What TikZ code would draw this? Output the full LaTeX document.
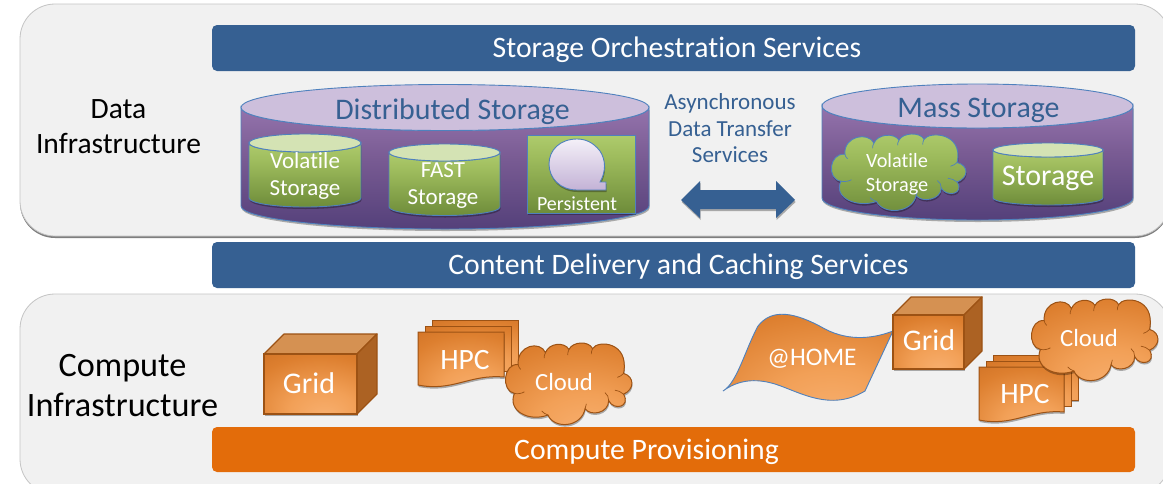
\documentclass[tikz,border=0pt]{standalone}
\usepackage{fontspec}
\setmainfont{Carlito}[Ligatures=NoCommon]
\usetikzlibrary{shadows}
\definecolor{barblue}{HTML}{366092}
\definecolor{barorange}{HTML}{E36C0A}
\definecolor{panelfill}{HTML}{F1F1F1}
\definecolor{panelline}{HTML}{C4C4C4}
\definecolor{cylline}{HTML}{4F81BD}
\definecolor{orangeline}{HTML}{9C5214}
\definecolor{HTMLtop}{HTML}{D59152}
\definecolor{HTMLside}{HTML}{AC6223}
\definecolor{cloudorangeline}{HTML}{9C5214}
\definecolor{cloudgreenline}{HTML}{4F81BD}
\definecolor{HTMLlav}{HTML}{CDBFDC}
\definecolor{HTMLlgreen}{HTML}{D4E3B4}
\definecolor{pa}{HTML}{54407A}
\definecolor{pb}{HTML}{7A5C94}
\definecolor{pc}{HTML}{9473AC}
\definecolor{ga}{HTML}{6E8C3A}
\definecolor{gb}{HTML}{9DBB5C}
\definecolor{gc}{HTML}{AECB6C}
\definecolor{ba}{HTML}{C3B2D6}
\definecolor{bb}{HTML}{F4F0F8}
\definecolor{oa}{HTML}{F8B070}
\definecolor{ob}{HTML}{F2A057}
\definecolor{oc}{HTML}{DD7F2F}
\definecolor{od}{HTML}{C96B20}
\definecolor{oe}{HTML}{BE641C}
\pgfdeclareverticalshading{purplebody}{100bp}{color(0bp)=(pa);color(25bp)=(pa);color(55bp)=(pb);color(75bp)=(pc);color(100bp)=(pc)}
\pgfdeclareverticalshading{greenbody}{100bp}{color(0bp)=(ga);color(25bp)=(ga);color(60bp)=(gb);color(75bp)=(gc);color(100bp)=(gc)}
\pgfdeclareverticalshading{bubble}{100bp}{color(0bp)=(ba);color(25bp)=(ba);color(75bp)=(bb);color(100bp)=(bb)}
\pgfdeclareradialshading{orangeglow}{\pgfpoint{8bp}{-28bp}}{color(0bp)=(oa);color(18bp)=(ob);color(40bp)=(oc);color(60bp)=(od);color(100bp)=(oe)}
\tikzset{
  x=1pt,y=-1pt,
  panel/.style={draw=panelline,line width=.8pt,fill=panelfill,rounded corners=35pt,inner sep=0pt,minimum width=1150pt},
  bar/.style={rounded corners=5pt,inner sep=0pt,minimum width=923pt,text=white,text height=22pt,text depth=3pt,font=\fontsize{29.7}{32}\selectfont},
  sidelabel/.style={align=center,text=black,inner sep=0pt},
  titlelabel/.style={text=barblue,inner sep=0pt,font=\fontsize{29.9}{32}\selectfont},
  whitelabel/.style={text=white,align=center,inner sep=0pt},
  cylbody/.style={draw=cylline,line width=.9pt,shading=purplebody},
  cyltop/.style={draw=cylline,line width=.9pt,fill=#1},
  greenshape/.style={draw=cylline,line width=.9pt,shading=greenbody},
  softshadow/.style={drop shadow={shadow xshift=.6pt,shadow yshift=-2pt,opacity=.3,fill=black}},
  orangeshape/.style={draw=orangeline,line width=1pt,shading=orangeglow},
  cloudorange/.style={},
  cloudgreen/.style={greenshape},
}
% name, cx, top-centre y, rx, ry, side-bottom y, body style, top colour
\newcommand{\cylinderat}[8]{%
  \path[#7,softshadow] (#2-#4,#3) -- (#2-#4,#6) arc[start angle=180,end angle=0,x radius=#4,y radius=#5] -- (#2+#4,#3) arc[start angle=0,end angle=180,x radius=#4,y radius=#5] -- cycle;
  \path[cyltop=#8] (#2,#3) ellipse[x radius=#4,y radius=#5];
  \coordinate (#1) at (#2,#3);
}
\newcommand{\cloudat}[5]{% style,x,y,w,h
  \begin{scope}[shift={(#2,#3)},xscale=#4,yscale=#5]
  \path[orangeshape,softshadow,#1] (.09,.27)
    .. controls (.08,.02) and (.27,-.03) .. (.31,.12)
    .. controls (.34,.0) and (.46,-.02) .. (.50,.08)
    .. controls (.53,-.02) and (.66,-.03) .. (.69,.07)
    .. controls (.73,-.04) and (.99,-.02) .. (.94,.38)
    .. controls (1.03,.42) and (1.03,.58) .. (.94,.64)
    .. controls (1.0,.80) and (.86,.85) .. (.82,.72)
    .. controls (.82,.88) and (.67,.92) .. (.63,.82)
    .. controls (.60,1.06) and (.38,1.08) .. (.33,.90)
    .. controls (.18,.99) and (.0,.85) .. (.06,.63)
    .. controls (-.05,.60) and (-.03,.25) .. (.09,.27) -- cycle;
  \path[draw=#1line,line width=.7pt]
    (.31,.12) .. controls (.30,.15) and (.30,.17) .. (.30,.19)
    (.50,.08) .. controls (.49,.11) and (.49,.13) .. (.49,.15)
    (.69,.07) .. controls (.68,.10) and (.68,.12) .. (.68,.14)
    (.94,.38) .. controls (.93,.40) and (.91,.42) .. (.89,.43)
    (.94,.64) .. controls (.92,.61) and (.90,.60) .. (.87,.59)
    (.82,.72) .. controls (.82,.68) and (.81,.64) .. (.79,.62)
    (.63,.82) .. controls (.63,.80) and (.64,.78) .. (.64,.76)
    (.33,.90) .. controls (.31,.89) and (.29,.87) .. (.28,.85)
    (.06,.63) .. controls (.09,.64) and (.12,.63) .. (.14,.61)
    (.09,.27) .. controls (.09,.29) and (.10,.31) .. (.11,.33);
  \end{scope}
}
\newcommand{\docpath}[4]{(#1,#2) -- (#1+#3,#2) -- (#1+#3,#2+45) .. controls (#1+.6*#3,#2+42) and (#1+.4*#3,#2+60) .. (#1,#2+#4) -- cycle}
\newcommand{\stackat}[4]{% name,x,y,w
  \path[orangeshape,softshadow] (#2+14,#3-12) rectangle (#2+14+#4,#3+33);
  \path[orangeshape] (#2+7,#3-6) rectangle (#2+7+#4,#3+39);
  \path[orangeshape,softshadow] \docpath{#2}{#3}{#4}{53};
  \coordinate (#1) at (#2,#3);
}
\newcommand{\cubeat}[6]{% name,x0,y0,x1,y1,d
  \path[draw=orangeline,line width=1.2pt,fill=HTMLtop,line join=round] (#2,#3) -- (#2+#6,#3-#6) -- (#4+#6,#3-#6) -- (#4,#3) -- cycle;
  \path[draw=orangeline,line width=1.2pt,fill=HTMLside,line join=round] (#4,#3) -- (#4+#6,#3-#6) -- (#4+#6,#5-#6) -- (#4,#5) -- cycle;
  \path[orangeshape,line width=1.2pt,softshadow] (#2,#3) rectangle (#4,#5);
  \coordinate (#1) at (#2,#3);
}
\begin{document}
\begin{tikzpicture}
\useasboundingbox (0,0) rectangle (1163,483);
\clip (0,0) rectangle (1163,483);
\fill[white] (0,0) rectangle (1163,483);

% panels
\node[panel,minimum height=232pt,drop shadow={shadow xshift=0pt,shadow yshift=-2pt,opacity=.5,fill=black}] (dataPanel) at (595,120) {};
\node[panel,minimum height=200pt] (computePanel) at (595,394) {};

% service bars
\node[bar,fill=barblue,minimum height=46pt] (orchBar) at (673.5,48) {\hspace*{7pt}Storage Orchestration Services};
\node[bar,fill=barblue,minimum height=46pt] (cdnBar) at (673.5,265) {\hspace*{10pt}Content Delivery and Caching Services};
\node[bar,fill=barorange,minimum height=45pt] (provBar) at (673.5,449.5) {Compute Provisioning\hspace*{54pt}};

% side labels
\node[sidelabel,font=\fontsize{29.5}{35}\selectfont] (dataLabel) at (118.5,127) {Data\\Infrastructure};
\node[sidelabel,font=\fontsize{34.2}{40}\selectfont] (computeLabel) at (122.5,386) {Compute\\Infrastructure};

% distributed storage
\cylinderat{distCyl}{445}{107.5}{204}{23}{206}{cylbody}{HTMLlav}
\node[titlelabel] (distLabel) at (452.5,112) {Distributed Storage};
\cylinderat{volCyl}{305}{143}{56}{9}{198}{greenshape}{HTMLlgreen}
\node[whitelabel,font=\fontsize{23}{27}\selectfont] (volLabel) at (305,176) {Volatile\\Storage};
\cylinderat{fastCyl}{444.5}{152.5}{55.5}{8.5}{207}{greenshape}{HTMLlgreen}
\node[whitelabel,font=\fontsize{23}{27}\selectfont] (fastLabel) at (443,186) {FAST\\Storage};
\path[greenshape,softshadow] (527,135) rectangle (635,213);
\path[draw=cylline,line width=.9pt,shading=bubble,softshadow] (606,190) -- (606,182) -- (600,182)
  .. controls (606,172) and (606,160) .. (600,151)
  .. controls (593,142) and (585,139) .. (577,139)
  .. controls (560,139) and (549,150) .. (549,164)
  .. controls (549,178) and (560,190) .. (577,190) -- cycle;
\node[whitelabel,font=\fontsize{20}{22}\selectfont] (persLabel) at (577,204) {Persistent};

% transfer label and arrow
\node[text=barblue,align=center,inner sep=0pt,font=\fontsize{23}{26.5}\selectfont] (asyncLabel) at (730,128.5) {Asynchronous\\Data Transfer\\Services};
\path[fill=barblue,softshadow] (681,200) -- (700,181) -- (700,190) -- (776,190) -- (776,181) -- (795,200) -- (776,218) -- (776,209) -- (700,209) -- (700,218) -- cycle;

% mass storage
\cylinderat{massCyl}{977.5}{106}{155.5}{22}{198}{cylbody}{HTMLlav}
\node[titlelabel] (massLabel) at (978.5,110) {Mass Storage};
\cloudat{cloudgreen}{833}{134}{132}{75}
\node[whitelabel,font=\fontsize{20.3}{24}\selectfont] (cloudVolLabel) at (897,174) {Volatile\\Storage};
\cylinderat{storCyl}{1048}{150}{55}{7}{198}{greenshape}{HTMLlgreen}
\node[whitelabel,font=\fontsize{30}{34}\selectfont] (storLabel) at (1048,178) {Storage};

% compute, left group
\cubeat{gridA}{264}{354}{357}{414}{20}
\node[whitelabel,font=\fontsize{30}{32}\selectfont] (gridALabel) at (309,383) {Grid};
\stackat{hpcA}{418}{332}{86}
\node[whitelabel,font=\fontsize{29.5}{32}\selectfont] (hpcALabel) at (465,360) {HPC};
\cloudat{cloudorange}{507}{343}{124}{80}
\node[whitelabel,font=\fontsize{24.7}{26}\selectfont] (cloudALabel) at (564,382) {Cloud};

% compute, right group
\path[orangeshape,draw=cylline,line width=.9pt] (723,391) .. controls (737,383) and (745,350) .. (758,326) .. controls (772,308) and (795,312) .. (825,329) .. controls (850,342) and (875,338) .. (893,331) -- (865,391) .. controls (830,412) and (800,392) .. (775,384) .. controls (755,378) and (738,380) .. (723,391) -- cycle;
\node[whitelabel,font=\fontsize{25.3}{28}\selectfont] (homeLabel) at (812,359) {@HOME};
\cubeat{gridB}{893}{315}{964}{369}{18}
\node[whitelabel,font=\fontsize{30}{32}\selectfont] (gridBLabel) at (929,340) {Grid};
\stackat{hpcB}{979}{367}{85}
\node[whitelabel,font=\fontsize{29.5}{32}\selectfont] (hpcBLabel) at (1025,394) {HPC};
\cloudat{cloudorange}{1033}{299}{124}{80}
\node[whitelabel,font=\fontsize{24.7}{26}\selectfont] (cloudBLabel) at (1089,338) {Cloud};
\end{tikzpicture}
\end{document}
